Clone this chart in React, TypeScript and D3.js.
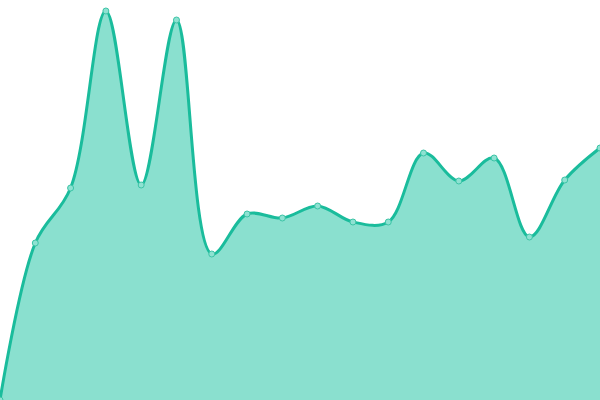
import React, { useEffect, useRef } from 'react';
import * as d3 from 'd3';

// one value per evenly spaced step
const steps = d3.range(18);
const values = [0, 157, 212, 389, 215, 380, 146, 186, 182, 194, 178, 178, 247, 219, 242, 163, 220, 252];

const WIDTH = 600;
const HEIGHT = 400;

const App: React.FC = () => {
    const svgRef = useRef<SVGSVGElement>(null);

    useEffect(() => {
        if (!svgRef.current) return;
        const svg = d3.select(svgRef.current);
        svg.selectAll('*').remove();

        const data = steps.map((s, i) => ({ s, v: values[i] }));

        const xScale = d3.scaleLinear()
            .domain([0, steps.length - 1])
            .range([0, WIDTH]);

        const yScale = d3.scaleLinear()
            .domain([0, 400])
            .range([HEIGHT, 0]);

        const curve = d3.curveCatmullRom.alpha(0.5);

        const area = d3.area<{ s: number; v: number }>()
            .x(d => xScale(d.s))
            .y0(yScale(0))
            .y1(d => yScale(d.v))
            .curve(curve);

        const line = d3.line<{ s: number; v: number }>()
            .x(d => xScale(d.s))
            .y(d => yScale(d.v))
            .curve(curve);

        svg.append('path')
            .datum(data)
            .attr('d', area)
            .attr('fill', '#8ae0cf');

        svg.append('path')
            .datum(data)
            .attr('d', line)
            .attr('fill', 'none')
            .attr('stroke', '#1abc9c')
            .attr('stroke-width', 3);

        svg.selectAll('.dot')
            .data(data)
            .enter()
            .append('circle')
            .attr('class', 'dot')
            .attr('cx', d => xScale(d.s))
            .attr('cy', d => yScale(d.v))
            .attr('r', 3)
            .attr('fill', '#8ee2d2')
            .attr('stroke', '#3cc4a6')
            .attr('stroke-width', 1);
    }, []);

    return (
        <svg
            ref={svgRef}
            width={WIDTH}
            height={HEIGHT}
            style={{ position: 'absolute', left: 0, top: 0, display: 'block' }}
        />
    );
};

export default App;
